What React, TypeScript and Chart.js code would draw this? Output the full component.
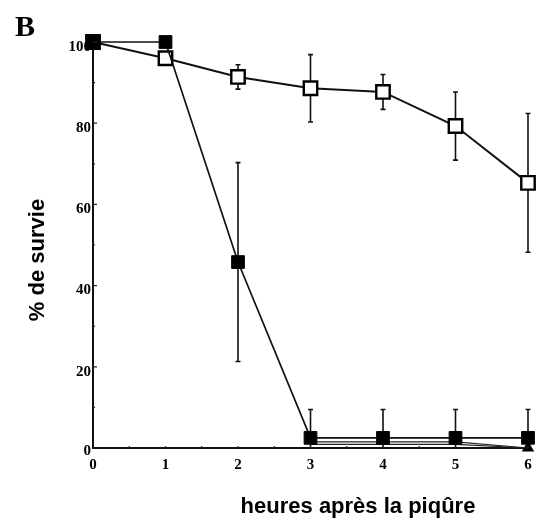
import React, { useEffect, useRef } from "react";
import { Chart, registerables } from "chart.js";
Chart.register(...registerables);

const hours = [0, 1, 2, 3, 4, 5, 6];
const yTickValues = [0, 20, 40, 60, 80, 100];
const piqueSurvival = [100, 100, 45.8, 2.5, 2.5, 2.5, 2.5];
const piqueError = [0, 0, 24.5, 7, 7, 7, 7];
const controlSurvival = [100, 96, 91.4, 88.6, 87.7, 79.3, 65.3];
const controlError = [0, 0, 3, 8.3, 4.3, 8.4, 17.1];
const lowSeriesA: (number | null)[] = [null, null, null, 1.5, 1.5, 1.5, 0];
const lowSeriesB: (number | null)[] = [null, null, null, 0.9, 0.9, 0.9, 0];

const panelLabel = "B";
const xTitle = "heures après la piqûre";
const yTitle = "% de survie";

const toPoints = (vals: (number | null)[]) =>
  hours.map((h, i) => ({ x: h, y: vals[i] }));

const errorSets = [
  { values: piqueSurvival, errors: piqueError },
  { values: controlSurvival, errors: controlError },
];

const tickFont = 'bold 15px "Liberation Serif"';

const errorBarPlugin = {
  id: "errorBars",
  beforeDatasetsDraw(chart: any) {
    const { ctx, scales } = chart;
    const xs = scales.x;
    const ys = scales.y;
    ctx.save();
    ctx.strokeStyle = "#111";
    ctx.lineWidth = 1.6;
    errorSets.forEach((s) => {
      hours.forEach((h, i) => {
        const e = s.errors[i];
        if (!e) return;
        const px = xs.getPixelForValue(h);
        const top = ys.getPixelForValue(s.values[i] + e);
        const bot = ys.getPixelForValue(Math.max(0, s.values[i] - e));
        ctx.beginPath();
        ctx.moveTo(px, top);
        ctx.lineTo(px, bot);
        ctx.moveTo(px - 2.5, top);
        ctx.lineTo(px + 2.5, top);
        if (s.values[i] - e > 0) {
          ctx.moveTo(px - 2.5, bot);
          ctx.lineTo(px + 2.5, bot);
        }
        ctx.stroke();
      });
    });
    ctx.restore();
  },
};

const annotPlugin = {
  id: "annot",
  afterDraw(chart: any) {
    const { ctx, chartArea, scales } = chart;
    const xs = scales.x;
    const ys = scales.y;
    ctx.save();
    ctx.strokeStyle = "#222";
    ctx.lineWidth = 1.2;
    ctx.beginPath();
    for (let v = 10; v <= 100; v += 10) {
      const py = ys.getPixelForValue(v);
      const len = v % 20 === 0 ? 4 : 2;
      ctx.moveTo(chartArea.left, py);
      ctx.lineTo(chartArea.left + len, py);
    }
    for (let v = 0.5; v <= 6; v += 0.5) {
      const px = xs.getPixelForValue(v);
      ctx.moveTo(px, chartArea.bottom);
      ctx.lineTo(px, chartArea.bottom - 2);
    }
    ctx.stroke();

    ctx.fillStyle = "#000";
    ctx.font = tickFont;
    ctx.textAlign = "right";
    ctx.textBaseline = "middle";
    yTickValues.forEach((v) => {
      const py = ys.getPixelForValue(v);
      ctx.fillText(String(v), chartArea.left - 2, py + (v === 0 ? 3 : 5));
    });

    ctx.font = 'bold 30px "Liberation Serif"';
    ctx.textAlign = "left";
    ctx.textBaseline = "alphabetic";
    ctx.fillText(panelLabel, 15, 36);

    ctx.font = 'bold 22px "Liberation Sans"';
    ctx.textAlign = "center";
    ctx.textBaseline = "middle";
    ctx.fillText(xTitle, 358, 507);
    ctx.translate(38, 260);
    ctx.rotate(-Math.PI / 2);
    ctx.fillText(yTitle, 0, 0);
    ctx.restore();
  },
};

export default function App() {
  const ref = useRef<HTMLCanvasElement | null>(null);
  useEffect(() => {
    if (!ref.current) return;
    const chart = new Chart(ref.current, {
      type: "line",
      data: {
        datasets: [
          {
            label: "piqûre",
            data: toPoints(piqueSurvival),
            borderColor: "#111",
            borderWidth: 1.7,
            backgroundColor: "#000",
            pointStyle: "rect",
            pointRadius: 9,
            pointBorderWidth: 1,
            pointBorderColor: "#000",
            pointBackgroundColor: "#000",
            clip: false,
          },
          {
            label: "témoin",
            data: toPoints(controlSurvival),
            borderColor: "#111",
            borderWidth: 2,
            pointStyle: "rect",
            pointRadius: 9.5,
            pointBorderWidth: 2.4,
            pointBorderColor: "#000",
            pointBackgroundColor: "#fff",
            clip: false,
          },
          {
            label: "a",
            data: toPoints(lowSeriesA),
            borderColor: "#222",
            borderWidth: 1.2,
            pointRadius: 0,
            clip: false,
          },
          {
            label: "b",
            data: toPoints(lowSeriesB),
            borderColor: "#222",
            borderWidth: 1.2,
            pointStyle: "triangle",
            pointRadius: lowSeriesB.map((v, i) => (i === lowSeriesB.length - 1 ? 6 : 0)),
            pointBackgroundColor: "#000",
            pointBorderColor: "#000",
            clip: false,
          },
        ],
      },
      options: {
        animation: false,
        responsive: false,
        spanGaps: false,
        layout: { padding: { left: 0, top: 42, right: 13, bottom: 0 } },
        plugins: {
          legend: { display: false },
          tooltip: { enabled: false },
        },
        scales: {
          x: {
            type: "linear",
            min: 0,
            max: 6,
            afterFit: (s: any) => {
              s.height = 79;
            },
            afterBuildTicks: (s: any) => {
              s.ticks = hours.map((h) => ({ value: h }));
            },
            grid: { display: false },
            border: { display: true, color: "#111", width: 2 },
            ticks: {
              padding: 0,
              color: "#000",
              font: { family: '"Liberation Serif"', weight: "bold", size: 15 },
            },
          },
          y: {
            type: "linear",
            min: 0,
            max: 100,
            afterFit: (s: any) => {
              s.width = 93;
            },
            afterBuildTicks: (s: any) => {
              s.ticks = yTickValues.map((v) => ({ value: v }));
            },
            grid: { display: false },
            border: { display: true, color: "#111", width: 2 },
            ticks: { display: false },
          },
        },
      },
      plugins: [errorBarPlugin, annotPlugin],
    } as any);
    return () => chart.destroy();
  }, []);
  return (
    <div style={{ position: "fixed", left: 0, top: 0, width: 541, height: 527, background: "#fff" }}>
      <canvas ref={ref} width={541} height={527} style={{ width: 541, height: 527 }} />
    </div>
  );
}
